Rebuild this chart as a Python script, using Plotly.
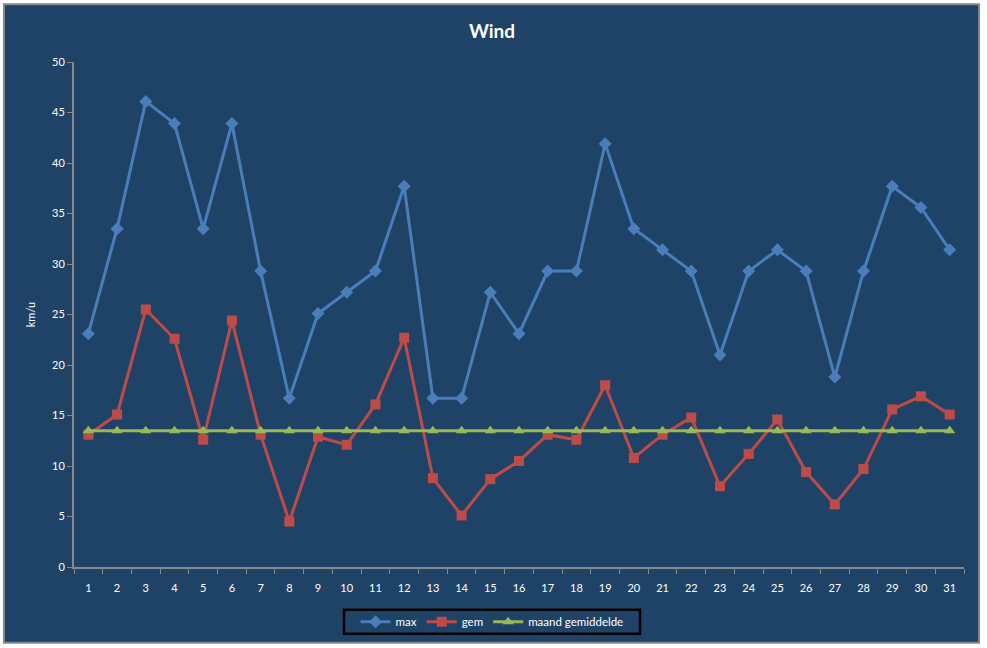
import plotly.graph_objects as go

# days of the month
days = [str(d) for d in range(1, 32)]

# wind speeds in km/u
max_wind = [23.1, 33.5, 46.1, 43.9, 33.5, 43.9, 29.3, 16.7, 25.1, 27.2,
            29.3, 37.7, 16.7, 16.7, 27.2, 23.1, 29.3, 29.3, 41.9, 33.5,
            31.4, 29.3, 21.0, 29.3, 31.4, 29.3, 18.8, 29.3, 37.7, 35.6, 31.4]
gem_wind = [13.1, 15.1, 25.5, 22.6, 12.6, 24.4, 13.1, 4.5, 12.9, 12.1,
            16.1, 22.7, 8.8, 5.1, 8.7, 10.5, 13.1, 12.6, 18.0, 10.8,
            13.1, 14.8, 8.0, 11.2, 14.6, 9.4, 6.2, 9.7, 15.6, 16.9, 15.1]
maand_gem = [13.5] * 31

ytick_vals = [0, 5, 10, 15, 20, 25, 30, 35, 40, 45, 50]

bg = '#1F4367'
font_family = 'Lato, Open Sans, sans-serif'

fig = go.Figure()
fig.add_trace(go.Scatter(name='max', x=days, y=max_wind, mode='lines+markers',
                         line=dict(color='#4A7EBB', width=3),
                         marker=dict(symbol='diamond', size=10, color='#4A7EBB')))
fig.add_trace(go.Scatter(name='gem', x=days, y=gem_wind, mode='lines+markers',
                         line=dict(color='#BE4B48', width=3),
                         marker=dict(symbol='square', size=10, color='#BE4B48')))
fig.add_trace(go.Scatter(name='maand gemiddelde', x=days, y=maand_gem, mode='lines+markers',
                         line=dict(color='#98B954', width=3),
                         marker=dict(symbol='triangle-up', size=10, color='#98B954')))

# chart area frame (dark fill with grey border, thin white margin around)
fig.add_shape(type='rect', xref='paper', yref='paper',
              x0=-0.0787, x1=1.0169, y0=-0.1499, y1=1.1144,
              fillcolor=bg, line=dict(color='#888888', width=2), layer='below')
# legend box
fig.add_shape(type='rect', xref='paper', yref='paper',
              x0=0.3034, x1=0.636, y0=-0.1321, y1=-0.0848,
              fillcolor=bg, line=dict(color='black', width=2.5), layer='below')

fig.update_layout(
    width=987, height=648,
    margin=dict(l=74, r=23, t=62, b=79),
    paper_bgcolor='white',
    plot_bgcolor=bg,
    font=dict(family=font_family, size=11, color='white'),
    title=dict(text='<b>Wind</b>', x=0.4985, xref='container', xanchor='center',
               y=0.952, yanchor='middle', font=dict(size=19, color='white')),
    showlegend=True,
    legend=dict(orientation='h', x=0.4697, xanchor='center', y=-0.1085, yanchor='middle',
                bgcolor='rgba(0,0,0,0)', borderwidth=0,
                font=dict(size=11.5, color='white'), itemwidth=30,
                tracegroupgap=0),
)

fig.update_xaxes(type='category', range=[-0.5, 30.5], showgrid=False, zeroline=False,
                 showline=True, linecolor='#888888', linewidth=2,
                 ticks='outside', tickson='boundaries', ticklen=5, tickcolor='#888888',
                 ticklabelstandoff=10, tickfont=dict(size=11, color='white'))
fig.update_yaxes(range=[0, 50], tickvals=ytick_vals, showgrid=False, zeroline=False,
                 showline=True, linecolor='#888888', linewidth=2,
                 ticks='outside', ticklen=5, tickcolor='#888888',
                 tickfont=dict(size=11, color='white'),
                 title=dict(text='km/u', font=dict(size=11, color='white'), standoff=14))

# drop the default page margin so the figure fills the window exactly
fig.write_html('out.html', config={'displayModeBar': False},
               post_script="document.body.style.margin='0';")
